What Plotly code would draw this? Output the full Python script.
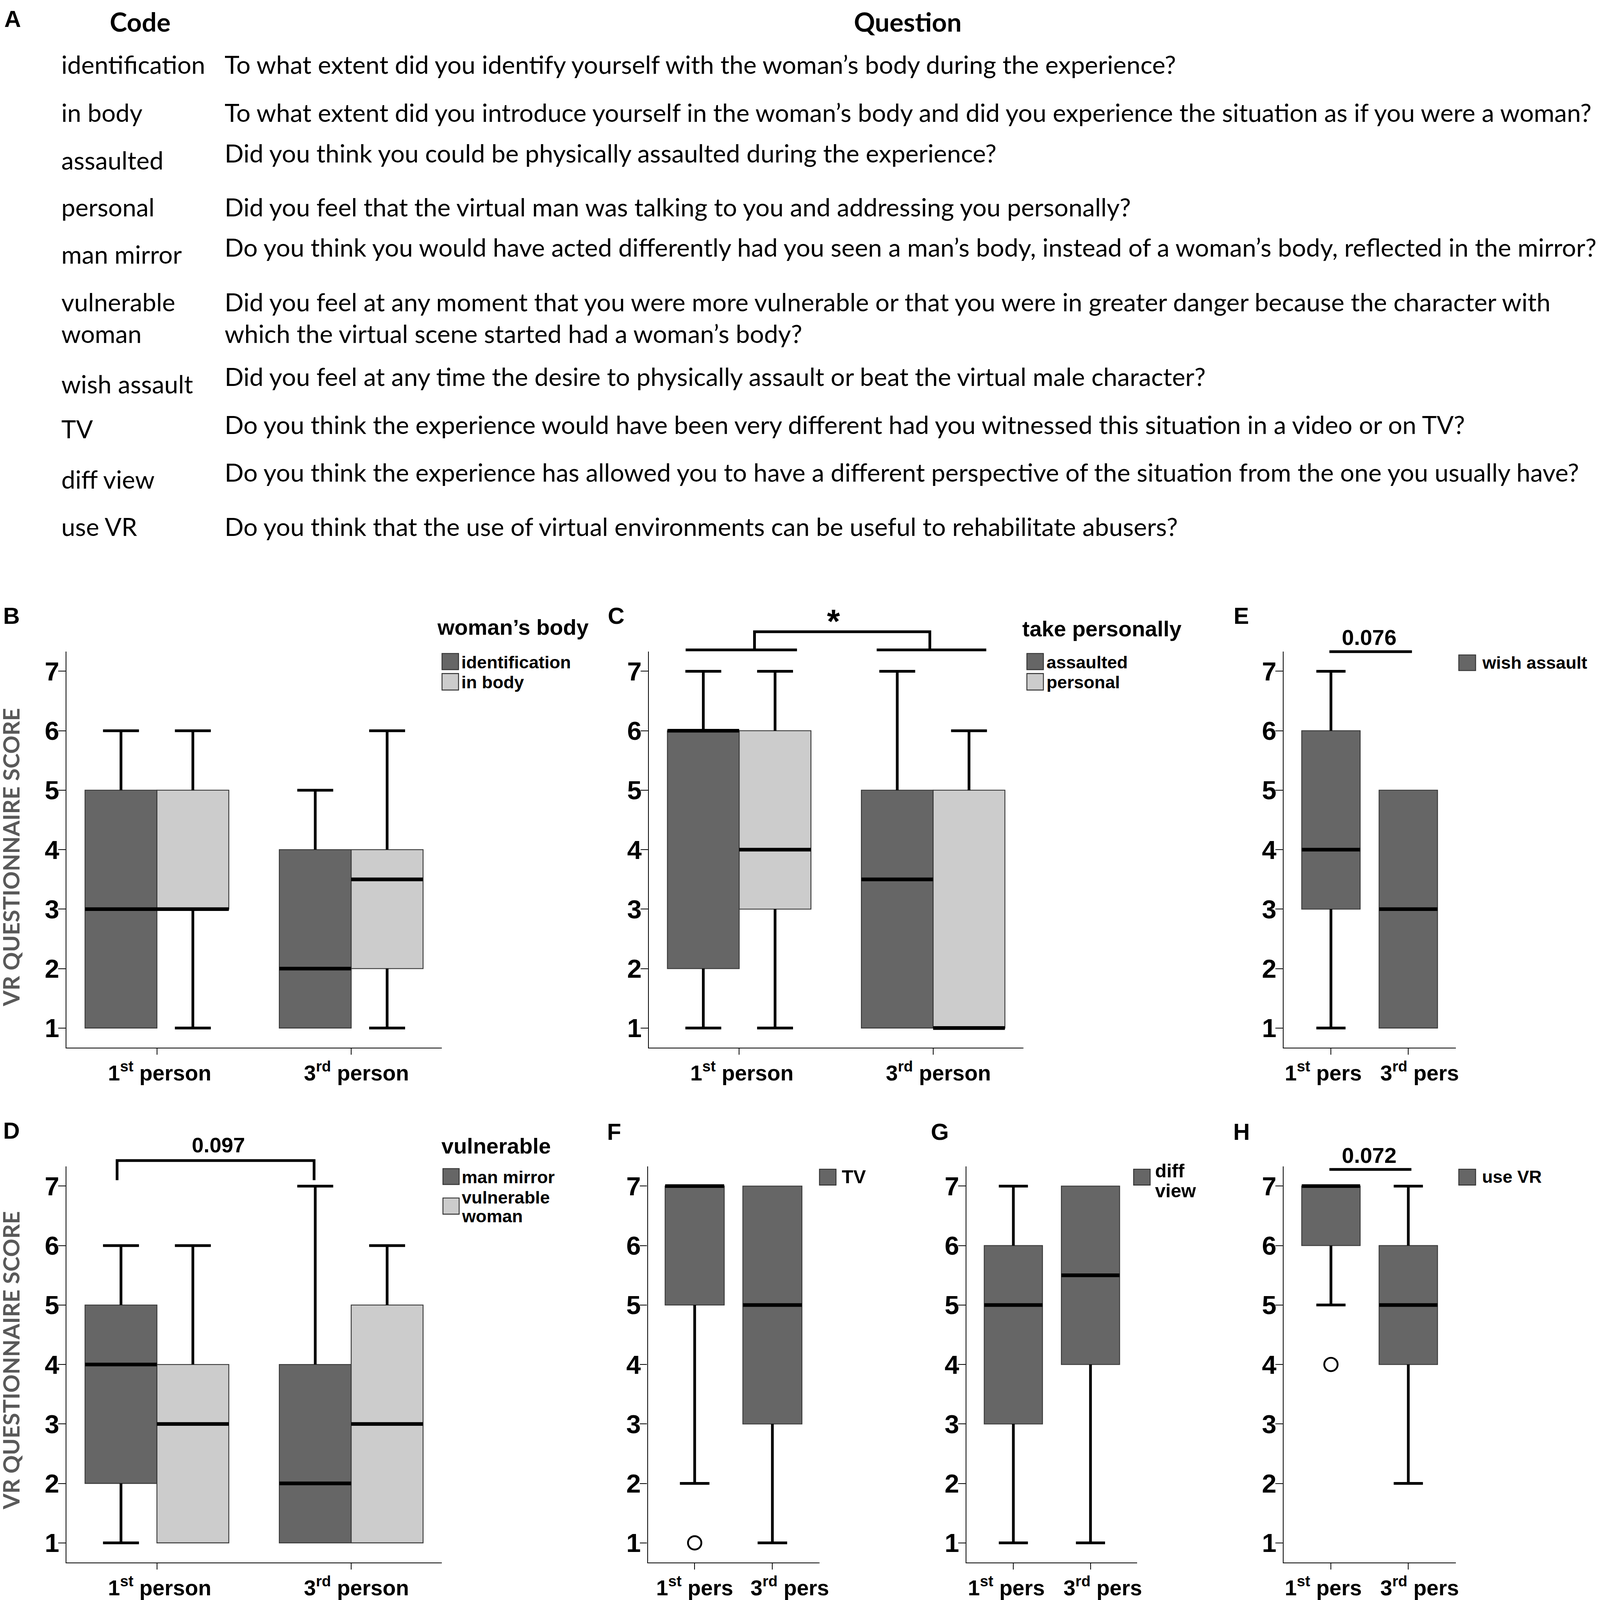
import plotly.graph_objects as go

# design units = reference pixels; the page is photographed in a 4096x4096 CSS viewport
W, H = 5200, 5333
VIEW = 4096
M = 8                      # default body margin of the page (CSS px)
SX, SY = VIEW / W, VIEW / H
F = 0.778                  # font / line scale, design px -> CSS px
FW = FH = VIEW - M

# ---------------- DATA ----------------
# Panel A table
codes = ["identification", "in body", "assaulted", "personal", "man mirror",
         "vulnerable", "woman", "wish assault", "TV", "diff view", "use VR"]
questions = [
    "To what extent did you identify yourself with the woman’s body during the experience?",
    "To what extent did you introduce yourself in the woman’s body and did you experience the situation as if you were a woman?",
    "Did you think you could be physically assaulted during the experience?",
    "Did you feel that the virtual man was talking to you and addressing you personally?",
    "Do you think you would have acted differently had you seen a man’s body, instead of a woman’s body, reflected in the mirror?",
    "Did you feel at any moment that you were more vulnerable or that you were in greater danger because the character with",
    "which the virtual scene started had a woman’s body?",
    "Did you feel at any time the desire to physically assault or beat the virtual male character?",
    "Do you think the experience would have been very different had you witnessed this situation in a video or on TV?",
    "Do you think the experience has allowed you to have a different perspective of the situation from the one you usually have?",
    "Do you think that the use of virtual environments can be useful to rehabilitate abusers?",
]

# categories
cats_long = ["1<sup>st</sup> person", "3<sup>rd</sup> person"]
cats_short = ["1<sup>st</sup> pers", "3<sup>rd</sup> pers"]

# box statistics per series, [1st person, 3rd person]
identification = dict(lo=[1, 1], q1=[1, 1], med=[3, 2], q3=[5, 4], hi=[6, 5])
in_body = dict(lo=[1, 1], q1=[3, 2], med=[3, 3.5], q3=[5, 4], hi=[6, 6])
assaulted = dict(lo=[1, 1], q1=[2, 1], med=[6, 3.5], q3=[6, 5], hi=[7, 7])
personal = dict(lo=[1, 1], q1=[3, 1], med=[4, 1], q3=[6, 5], hi=[7, 6])
wish_assault = dict(lo=[1, 1], q1=[3, 1], med=[4, 3], q3=[6, 5], hi=[7, 5])
man_mirror = dict(lo=[1, 1], q1=[2, 1], med=[4, 2], q3=[5, 4], hi=[6, 7])
vulnerable_woman = dict(lo=[1, 1], q1=[1, 1], med=[3, 3], q3=[4, 5], hi=[6, 6])
tv = dict(lo=[2, 1], q1=[5, 3], med=[7, 5], q3=[7, 7], hi=[7, 7])
diff_view = dict(lo=[1, 1], q1=[3, 4], med=[5, 5.5], q3=[6, 7], hi=[7, 7])
use_vr = dict(lo=[5, 2], q1=[6, 4], med=[7, 5], q3=[7, 6], hi=[7, 7])
tv_outliers = [[1], []]
use_vr_outliers = [[4], []]

# ---------------- STYLE ----------------
DARK = "#666666"
LIGHT = "#cccccc"
ARIAL = "Liberation Sans, Arial, sans-serif"
CAL = "Lato, Carlito, Calibri, sans-serif"
YR = [0.67, 7.33]

fig = go.Figure()
shapes = []
annotations = []


def z(v):
    return v * F


def px(x):
    return (x * SX - M) / FW


def py(y):
    return 1 - (y * SY - M) / FH


def ann(text, x, y, size, family=ARIAL, xanchor="left", color="black", bold=False, angle=0):
    annotations.append(dict(
        text=text, x=px(x), y=py(y), xref="paper", yref="paper",
        xanchor=xanchor, yanchor="middle", showarrow=False, textangle=angle,
        font=dict(size=z(size), family=family, color=color,
                  weight="bold" if bold else "normal")))


# ---------------- PANEL A ----------------
code_y = [214, 374, 533, 690, 847, 1006, 1111, 1279, 1429, 1597, 1755]
question_y = [214, 374, 510, 690, 823, 1006, 1111, 1254, 1415, 1573, 1755]
ann("A", 41, 63, 76, ARIAL, xanchor="center", bold=True)
ann("Code", 459, 71, 86, CAL, xanchor="center", bold=True)
ann("Question", 2968, 71, 86, CAL, xanchor="center", bold=True)
for c, yv in zip(codes, code_y):
    ann(c, 198, yv, 82, CAL)
for q, yv in zip(questions, question_y):
    ann(q, 732, yv, 82.5, CAL)

# ---------------- BOX PANELS ----------------
# 'lab' = horizontal offset of each category label from its tick (in category units)
panels = [
    dict(key="B", n=1, xpx=(217, 1444), ypx=(2172, 3492), xr=(-0.466, 1.466),
         series=[(identification, DARK, -0.185), (in_body, LIGHT, 0.185)], w=0.37,
         cats=cats_long, lab=[0.014, 0.027], outliers=None),
    dict(key="C", n=2, xpx=(2121, 3346), ypx=(2172, 3492), xr=(-0.466, 1.466),
         series=[(assaulted, DARK, -0.185), (personal, LIGHT, 0.185)], w=0.37,
         cats=cats_long, lab=[0.014, 0.027], outliers=None),
    dict(key="E", n=3, xpx=(4196, 4759), ypx=(2172, 3492), xr=(-0.613, 1.613),
         series=[(wish_assault, DARK, 0.0)], w=0.755,
         cats=cats_short, lab=[-0.099, 0.146], outliers=None),
    dict(key="D", n=4, xpx=(217, 1444), ypx=(3888, 5208), xr=(-0.466, 1.466),
         series=[(man_mirror, DARK, -0.185), (vulnerable_woman, LIGHT, 0.185)], w=0.37,
         cats=cats_long, lab=[0.014, 0.027], outliers=None),
    dict(key="F", n=5, xpx=(2118, 2679), ypx=(3888, 5208), xr=(-0.602, 1.606),
         series=[(tv, DARK, 0.0)], w=0.76,
         cats=cats_short, lab=[0.0, 0.224], outliers=tv_outliers),
    dict(key="G", n=6, xpx=(3159, 3717), ypx=(3888, 5208), xr=(-0.61, 1.603),
         series=[(diff_view, DARK, 0.0)], w=0.755,
         cats=cats_short, lab=[-0.091, 0.159], outliers=None),
    dict(key="H", n=7, xpx=(4196, 4759), ypx=(3888, 5208), xr=(-0.613, 1.613),
         series=[(use_vr, DARK, 0.0)], w=0.755,
         cats=cats_short, lab=[-0.099, 0.146], outliers=use_vr_outliers),
]
P = {p["key"]: p for p in panels}


def d2p(key, x, y):
    """data coords of a panel -> paper coords"""
    p = P[key]
    (l, r), (t, b), (x0, x1) = p["xpx"], p["ypx"], p["xr"]
    X = l + (x - x0) / (x1 - x0) * (r - l)
    Y = b - (y - YR[0]) / (YR[1] - YR[0]) * (b - t)
    return px(X), py(Y)


layout_axes = {}
for p in panels:
    n = p["n"]
    sx = "" if n == 1 else str(n)
    xa, ya = "x" + sx, "y" + sx
    w = p["w"]
    positions = list(range(len(p["cats"])))
    for s, color, off in p["series"]:
        xs = [i + off for i in positions]
        fig.add_trace(go.Box(
            x=xs, q1=s["q1"], median=s["med"], q3=s["q3"],
            lowerfence=s["q1"], upperfence=s["q3"],
            width=w, fillcolor=color, line=dict(color="#3a3a3a", width=z(3)),
            whiskerwidth=0, boxpoints=False, showlegend=False, hoverinfo="skip",
            xaxis=xa, yaxis=ya))
        # whiskers + caps
        wx, wy = [], []
        for xi, lo, q1, q3, hi in zip(xs, s["lo"], s["q1"], s["q3"], s["hi"]):
            if hi > q3:
                wx += [xi, xi, None, xi - w / 4, xi + w / 4, None]
                wy += [q3, hi, None, hi, hi, None]
            if lo < q1:
                wx += [xi, xi, None, xi - w / 4, xi + w / 4, None]
                wy += [lo, q1, None, lo, lo, None]
        if wx:
            fig.add_trace(go.Scatter(x=wx, y=wy, mode="lines",
                                     line=dict(color="black", width=z(9)),
                                     showlegend=False, hoverinfo="skip",
                                     xaxis=xa, yaxis=ya))
        # medians
        mx, my = [], []
        for xi, md in zip(xs, s["med"]):
            mx += [xi - w / 2, xi + w / 2, None]
            my += [md, md, None]
        fig.add_trace(go.Scatter(x=mx, y=my, mode="lines",
                                 line=dict(color="black", width=z(12)),
                                 showlegend=False, hoverinfo="skip",
                                 xaxis=xa, yaxis=ya))
    if p["outliers"]:
        ox, oy = [], []
        for i, vals in zip(positions, p["outliers"]):
            for v in vals:
                ox.append(i)
                oy.append(v)
        fig.add_trace(go.Scatter(x=ox, y=oy, mode="markers",
                                 marker=dict(symbol="circle-open", size=z(44),
                                             color="black", line=dict(width=z(6))),
                                 showlegend=False, hoverinfo="skip",
                                 xaxis=xa, yaxis=ya))

    (l, r), (t, b) = p["xpx"], p["ypx"]
    layout_axes["xaxis" + sx] = dict(
        domain=[px(l), px(r)], range=list(p["xr"]), anchor=ya,
        tickmode="array", tickvals=[i + d for i, d in zip(positions, p["lab"])],
        ticktext=p["cats"], tickangle=0, ticks="",
        ticklabelstandoff=int(round(z(20))),
        minor=dict(tickmode="array", tickvals=positions, ticks="outside",
                   ticklen=z(20), tickwidth=z(3), tickcolor="black", showgrid=False),
        showline=True, linecolor="black", linewidth=z(3), mirror=False,
        showgrid=False, zeroline=False,
        tickfont=dict(family=ARIAL, size=z(71), color="black", weight="bold"))
    layout_axes["yaxis" + sx] = dict(
        domain=[py(b), py(t)], range=YR, anchor=xa,
        tickmode="array", tickvals=[1, 2, 3, 4, 5, 6, 7],
        showline=True, linecolor="black", linewidth=z(3),
        ticks="outside", ticklen=z(24), tickwidth=z(3), tickcolor="black",
        ticklabelstandoff=-16,
        showgrid=False, zeroline=False,
        tickfont=dict(family=ARIAL, size=z(86), color="black", weight="bold"))

# ---------------- PANEL LABELS ----------------
for lab, x, y in [("B", 38, 2053), ("C", 2014, 2053), ("E", 4058, 2053),
                  ("D", 38, 3768), ("F", 2007, 3773), ("G", 3072, 3773), ("H", 4059, 3773)]:
    ann(lab, x, y, 76, ARIAL, xanchor="center", bold=True)

# y-axis titles
ann("VR QUESTIONNAIRE SCORE", 34, 2858, 74.5, CAL, xanchor="center", color="#595959",
    bold=True, angle=-90)
ann("VR QUESTIONNAIRE SCORE", 34, 4535, 74.5, CAL, xanchor="center", color="#595959",
    bold=True, angle=-90)


# ---------------- LEGENDS ----------------
def legend_square(x0, y0, x1, y1, color):
    shapes.append(dict(type="rect", xref="paper", yref="paper",
                       x0=px(x0), x1=px(x1), y0=py(y1), y1=py(y0),
                       fillcolor=color, line=dict(color="#333333", width=z(3))))


ann("woman’s body", 1426, 2091, 72, bold=True)
legend_square(1445, 2178, 1499, 2232, DARK)
legend_square(1445, 2245, 1499, 2300, LIGHT)
ann("identification", 1506, 2207, 58, bold=True)
ann("in body", 1506, 2274, 58, bold=True)

ann("take personally", 3340, 2096, 72, bold=True)
legend_square(3357, 2178, 3411, 2232, DARK)
legend_square(3357, 2245, 3411, 2300, LIGHT)
ann("assaulted", 3418, 2207, 58, bold=True)
ann("personal", 3418, 2274, 58, bold=True)

legend_square(4769, 2183, 4824, 2235, DARK)
ann("wish assault", 4842, 2209, 58, bold=True)

ann("vulnerable", 1441, 3820, 72, bold=True)
legend_square(1448, 3895, 1501, 3948, DARK)
legend_square(1448, 3993, 1501, 4047, LIGHT)
ann("man mirror", 1507, 3924, 58, bold=True)
ann("vulnerable", 1507, 3991, 58, bold=True)
ann("woman", 1507, 4054, 58, bold=True)

legend_square(2679, 3897, 2733, 3950, DARK)
ann("TV", 2750, 3921, 62, bold=True)

legend_square(3706, 3897, 3760, 3950, DARK)
ann("diff", 3773, 3902, 62, bold=True)
ann("view", 3773, 3969, 62, bold=True)

legend_square(4769, 3897, 4824, 3950, DARK)
ann("use VR", 4842, 3922, 58, bold=True)


# ---------------- SIGNIFICANCE BRACKETS ----------------
def bracket_line(key, pts, width=9):
    path = ""
    for i, (x, y) in enumerate(pts):
        X, Y = d2p(key, x, y)
        path += ("M" if i == 0 else "L") + f"{X},{Y}"
    shapes.append(dict(type="path", xref="paper", yref="paper", path=path,
                       line=dict(color="black", width=z(width))))


def bracket_text(key, text, x, y, size):
    X, Y = d2p(key, x, y)
    annotations.append(dict(text=text, x=X, y=Y, xref="paper", yref="paper",
                            xanchor="center", yanchor="middle", showarrow=False,
                            font=dict(size=z(size), family=ARIAL, color="black",
                                      weight="bold")))


# C: *
bracket_line("C", [(-0.276, 7.36), (0.298, 7.36)])
bracket_line("C", [(0.709, 7.36), (1.274, 7.36)])
bracket_line("C", [(0.079, 7.36), (0.079, 7.665), (0.983, 7.665), (0.983, 7.36)])
bracket_text("C", "*", 0.487, 7.84, 110)
# E: 0.076
bracket_line("E", [(-0.02, 7.33), (1.047, 7.33)])
bracket_text("E", "0.076", 0.494, 7.57, 72)
# D: 0.097
bracket_line("D", [(-0.205, 7.10), (-0.205, 7.43), (0.809, 7.43), (0.809, 7.10)])
bracket_text("D", "0.097", 0.317, 7.69, 70)
# H: 0.072
bracket_line("H", [(-0.02, 7.28), (1.04, 7.28)])
bracket_text("H", "0.072", 0.494, 7.52, 72)

fig.update_layout(
    width=FW, height=FH, margin=dict(l=0, r=0, t=0, b=0),
    paper_bgcolor="white", plot_bgcolor="white",
    showlegend=False, shapes=shapes, annotations=annotations,
    **layout_axes)

fig.write_html("out.html")
